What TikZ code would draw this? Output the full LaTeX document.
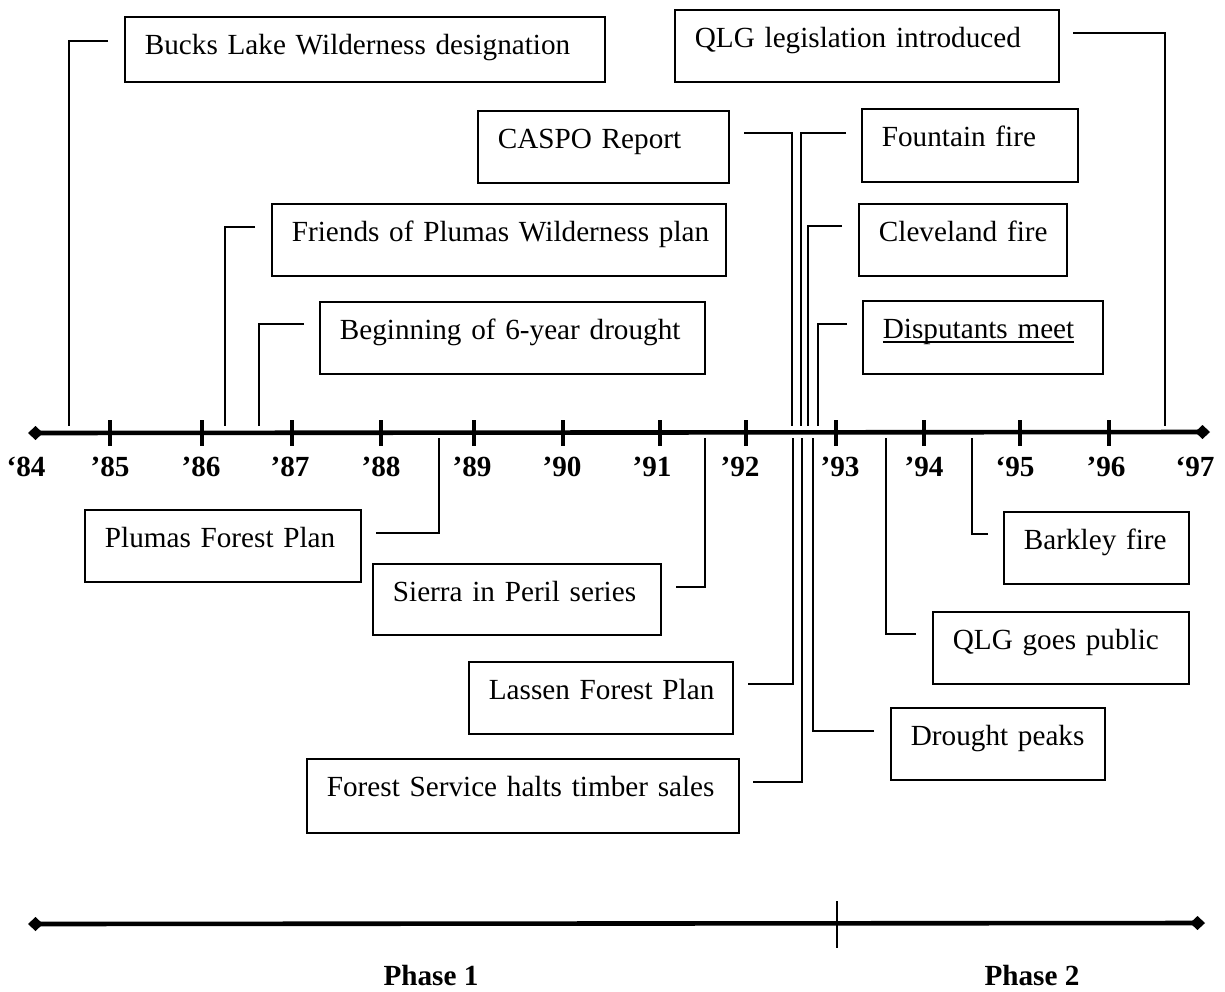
\documentclass[tikz,border=0pt]{standalone}
\usepackage{fontspec}
\setmainfont{Liberation Serif}
\usetikzlibrary{arrows.meta}
\newcommand\evfont{\fontsize{14.6pt}{17pt}\selectfont}
% underline set close to the baseline, crossing descenders
\newcommand\ulword[1]{\setbox0\hbox{#1}\rlap{\rule[-1.8pt]{\wd0}{0.7pt}}\box0}
\begin{document}
\begin{tikzpicture}[x=0.5pt,y=-0.5pt,
  evbox/.style={draw, line width=0.9pt, anchor=north west, inner xsep=10pt,
    inner ysep=0pt, align=left, text height=19pt, text depth=17pt, font=\evfont},
  link/.style={line width=1pt},
  yeartick/.style={line width=2pt},
  yearlbl/.style={font=\evfont\bfseries, inner sep=0pt, anchor=base},
  axis/.style={line width=2.3pt,
    {Diamond[length=7.5pt,width=7pt]}-{Diamond[length=7.5pt,width=7pt]}}]

\fill[white] (0,0) rectangle (1225,991);
\useasboundingbox (0,0) rectangle (1225,991);

% ---------- main time axis ----------
\coordinate (tlL) at (28,433);
\coordinate (tlR) at (1210,432);
\draw[axis] (tlL) -- (tlR);
\foreach \x in {109.5,202,292,381,473.5,563,660,746,836,923.5,1019.5,1109}
  \draw[yeartick] (\x,420) -- (\x,446);

\foreach \cx/\lab/\nm in {26/‘84/y84, 110/’85/y85, 201/’86/y86, 290/’87/y87,
    381/’88/y88, 472/’89/y89, 562/’90/y90, 652/’91/y91, 740/’92/y92,
    840/’93/y93, 924/’94/y94, 1015/‘95/y95, 1106/’96/y96, 1195/‘97/y97}
  \node[yearlbl] (\nm) at (\cx,476) {\lab};

% ---------- events above the axis ----------
\node[evbox, text width=220pt, text depth=13.5pt] (bucks) at (124,16) {\mbox{Bucks Lake Wilderness designation}};
\node[evbox, text width=172pt] (qlgleg) at (674,9) {\mbox{QLG legislation introduced}};
\node[evbox, text width=105.5pt] (caspo) at (477,110) {\mbox{CASPO Report}};
\node[evbox, text width=88pt, text depth=17.5pt] (fountain) at (861,108) {\mbox{Fountain fire}};
\node[evbox, text width=207pt] (friends) at (271,203) {\mbox{Friends of Plumas Wilderness plan}};
\node[evbox, text width=84pt] (cleveland) at (858,203) {\mbox{Cleveland fire}};
\node[evbox, text width=172.5pt] (begin) at (319,301) {\mbox{Beginning of 6-year drought}};
\node[evbox, text width=100pt, text depth=17.5pt] (disput) at (862,300) {\ulword{Disputants meet}};

% ---------- events below the axis ----------
\node[evbox, text width=118pt] (plumas) at (84,509) {\mbox{Plumas Forest Plan}};
\node[evbox, text width=124pt, text depth=16.5pt] (sierra) at (372,563) {\mbox{Sierra in Peril series}};
\node[evbox, text width=112pt] (lassen) at (468,661) {\mbox{Lassen Forest Plan}};
\node[evbox, text width=196pt, text depth=18pt] (fshalt) at (306,758) {\mbox{Forest Service halts timber sales}};
\node[evbox, text width=87pt] (drought) at (890,707) {\mbox{Drought peaks}};
\node[evbox, text width=108pt] (qlgpub) at (932,611) {\mbox{QLG goes public}};
\node[evbox, text width=72.5pt] (barkley) at (1003,511) {\mbox{Barkley fire}};

% ---------- leader lines: free end near the box, other end at the axis ----------
\coordinate (bucksA) at (108,41);    \coordinate (bucksT) at (69,426);
\coordinate (qlglegA) at (1073,33);  \coordinate (qlglegT) at (1165,426);
\coordinate (caspoA) at (744,133);   \coordinate (caspoT) at (792,426);
\coordinate (fountainA) at (846,133);\coordinate (fountainT) at (801,426);
\coordinate (friendsA) at (255,227); \coordinate (friendsT) at (225,426);
\coordinate (clevelandA) at (842,226);\coordinate (clevelandT) at (808,426);
\coordinate (beginA) at (304,324);   \coordinate (beginT) at (259,426);
\coordinate (disputA) at (847,324);  \coordinate (disputT) at (818,426);

\coordinate (plumasA) at (376,533);  \coordinate (plumasT) at (439,438);
\coordinate (sierraA) at (676,587);  \coordinate (sierraT) at (705,438);
\coordinate (lassenA) at (748,684);  \coordinate (lassenT) at (793,438);
\coordinate (fshaltA) at (753,782);  \coordinate (fshaltT) at (802,438);
\coordinate (droughtA) at (874,731); \coordinate (droughtT) at (813,438);
\coordinate (qlgpubA) at (916,634);  \coordinate (qlgpubT) at (886,438);
\coordinate (barkleyA) at (988,534); \coordinate (barkleyT) at (972,438);

\foreach \e in {bucks,qlgleg,caspo,fountain,friends,cleveland,begin,disput,
                plumas,sierra,lassen,fshalt,drought,qlgpub,barkley}
  \draw[link] (\e A) -| (\e T);

% ---------- phase axis ----------
\coordinate (phL) at (28,924);
\coordinate (phR) at (1205,923);
\draw[axis] (phL) -- (phR);
\coordinate (phTtop) at (837,901);
\coordinate (phTbot) at (837,948);
\draw[line width=1.2pt] (phTtop) -- (phTbot);
\node[yearlbl] (phase1) at (431,985) {Phase 1};
\node[yearlbl] (phase2) at (1032,985) {Phase 2};

\end{tikzpicture}
\end{document}
